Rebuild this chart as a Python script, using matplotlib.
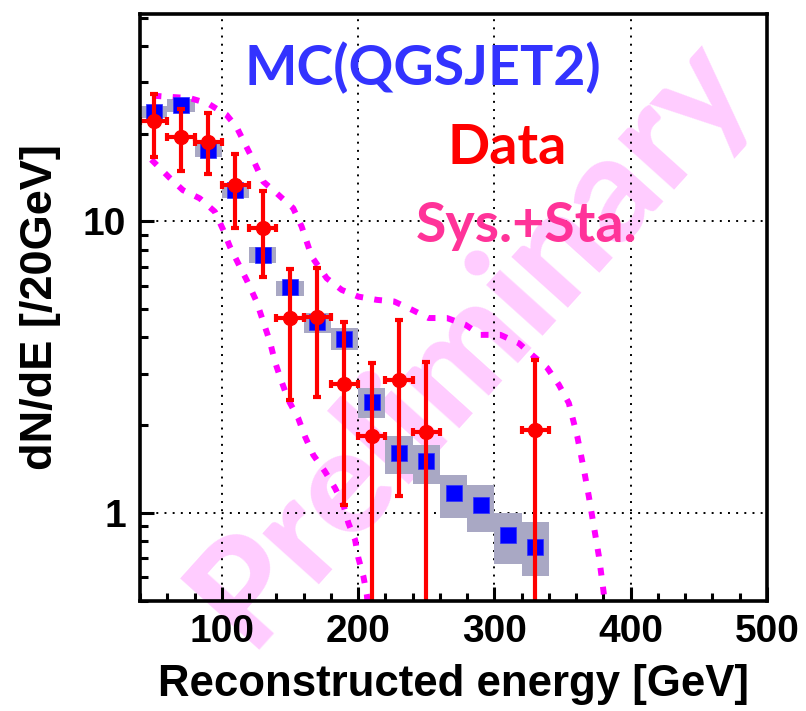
import matplotlib
matplotlib.use("Agg")
import matplotlib.pyplot as plt
from matplotlib.ticker import MultipleLocator, LogLocator, NullFormatter, FixedLocator, FixedFormatter
import numpy as np

# ---------------- data ----------------
bin_centers = [50, 70, 90, 110, 130, 150, 170, 190, 210, 230, 250, 270, 290, 310, 330]

# MC (QGSJET2)
mc_val = [23.8, 25.1, 17.6, 12.8, 7.68, 5.97, 4.53, 3.94, 2.40, 1.61, 1.51, 1.17, 1.065, 0.840, 0.766]
mc_lo  = [22.6, 23.8, 16.7, 12.0, 7.19, 5.53, 4.14, 3.62, 2.11, 1.36, 1.257, 0.959, 0.856, 0.668, 0.605]
mc_hi  = [24.8, 26.3, 18.6, 13.5, 8.19, 6.26, 4.84, 4.30, 2.69, 1.83, 1.71, 1.35, 1.248, 1.00, 0.927]

# Data
data_x  = [50, 70, 90, 110, 130, 150, 170, 190, 210, 230, 250, 330]
data_y  = [22.1, 19.5, 18.8, 13.3, 9.52, 4.66, 4.71, 2.76, 1.83, 2.86, 1.90, 1.93]
data_lo = [16.7, 14.9, 14.6, 9.52, 6.44, 2.44, 2.49, 1.065, 0.0, 1.14, 0.0, 0.0]
data_hi = [27.4, 24.4, 23.6, 17.1, 12.7, 6.85, 6.90, 4.53, 3.26, 4.59, 3.30, 3.35]
data_xerr = 10

# Sys.+Sta. envelope
up_x = [50, 59.3, 76.5, 89.9, 103.5, 110.8, 116.9, 124.3, 130.4, 140.2, 152.4, 158.6, 166.0,
        177.0, 188.0, 200.2, 213.7, 226.5, 239.7, 251.7, 265.2, 278.7, 289.7, 304.4, 317.9,
        327.7, 338.8, 347.3, 354.6, 360.8, 365.7, 369.3, 373.0, 376.7, 379.9, 381.6]
up_y = [27.0, 26.8, 26.5, 25.4, 23.2, 21.1, 18.5, 15.8, 13.7, 12.5, 11.1, 9.6, 7.57,
        6.38, 5.82, 5.52, 5.38, 5.31, 4.97, 4.66, 4.66, 4.42, 4.08, 4.08, 3.82,
        3.48, 3.14, 2.75, 2.38, 1.83, 1.404, 1.137, 0.897, 0.708, 0.545, 0.465]
lo_x = [48.3, 61.8, 71.5, 83.8, 94.9, 101.0, 105.9, 113.2, 118.2, 125.5, 130.4, 135.3, 139.0,
        143.9, 148.8, 156.1, 161.0, 167.1, 175.7, 183.1, 189.2, 192.9, 197.8, 200.2, 203.9,
        206.4, 207.4]
lo_y = [16.3, 14.1, 12.8, 12.0, 10.8, 9.36, 8.2, 7.0, 6.30, 5.31, 4.53, 3.87, 3.30,
        2.82, 2.44, 2.11, 1.83, 1.58, 1.386, 1.215, 1.065, 0.922, 0.808, 0.70, 0.605,
        0.524, 0.465]

x_ticks = [100, 200, 300, 400, 500]
y_ticks = [1, 10]
y_ticklabels = ["1", "10"]

# ---------------- figure ----------------
W, H = 806, 711
fig = plt.figure(figsize=(W / 100, H / 100), dpi=100)
fig.patch.set_facecolor("white")

L, R, T, B = 140, 767, 14, 600.5
ax = fig.add_axes([L / W, 1 - B / H, (R - L) / W, (B - T) / H])
ax.set_facecolor("none")

sans = ["Liberation Sans", "DejaVu Sans"]

# watermark
fig.text(470 / W, 1 - 340 / H, "Preliminary", rotation=48, ha="center", va="center",
         fontsize=106, fontweight="black", color="#FFCCFF", family=["Lato", "DejaVu Sans"],
         zorder=-5)

# MC boxes and markers
mc_lo_a = np.array(mc_lo)
mc_hi_a = np.array(mc_hi)
ax.bar(bin_centers, mc_hi_a - mc_lo_a, bottom=mc_lo_a, width=20, color="#A9A8C4",
       edgecolor="none", zorder=2)

# envelope
ax.plot(up_x, up_y, color="#FF00FF", lw=4.3, linestyle=(0, (1.3, 1.9)), zorder=2.5,
        dash_capstyle="butt")
ax.plot(lo_x, lo_y, color="#FF00FF", lw=4.3, linestyle=(0, (1.3, 1.9)), zorder=2.5,
        dash_capstyle="butt")

ax.plot(bin_centers, mc_val, "s", color="#0000FF", ms=12, mec="#3030FF", mew=0.5, zorder=3)

# data
dy = np.array(data_y)
yerr = [dy - np.array(data_lo), np.array(data_hi) - dy]
ax.errorbar(data_x, data_y, yerr=yerr, xerr=data_xerr, fmt="o", color="#FF0000", ms=10,
            elinewidth=3, capsize=3.2, capthick=3, zorder=4)

# axes
ax.set_yscale("log")
ax.set_xlim(40, 500)
ax.set_ylim(0.5, 51.5)

ax.xaxis.set_major_locator(FixedLocator(x_ticks))
ax.xaxis.set_minor_locator(MultipleLocator(20))
ax.yaxis.set_major_locator(FixedLocator(y_ticks))
ax.yaxis.set_major_formatter(FixedFormatter(y_ticklabels))
ax.yaxis.set_minor_locator(LogLocator(base=10, subs=[2, 3, 4, 5, 6, 7, 8, 9]))
ax.yaxis.set_minor_formatter(NullFormatter())

ax.tick_params(which="both", direction="in", top=False, right=False, width=2.2, color="black")
ax.tick_params(which="major", length=10)
ax.tick_params(which="minor", length=6)
ax.tick_params(axis="x", which="major", pad=10)
ax.tick_params(axis="y", which="major", pad=10)
for lab in ax.get_xticklabels() + ax.get_yticklabels():
    lab.set_family(sans)
    lab.set_fontweight("bold")
    lab.set_fontsize(28)

for sp in ax.spines.values():
    sp.set_linewidth(2.6)
    sp.set_zorder(5)

ax.set_axisbelow(True)
ax.grid(True, which="major", color="black", linestyle=(0, (1, 3.2)), linewidth=1.4)

ax.set_xlabel("Reconstructed energy [GeV]", family=sans, fontweight="bold", fontsize=31.5,
              labelpad=10)
ax.set_ylabel("dN/dE [/20GeV]", family=sans, fontweight="bold", fontsize=32.5, labelpad=16)

# annotations
fig.text(423 / W, 1 - 85 / H, "MC(QGSJET2)", ha="center", va="baseline", fontsize=40,
         fontweight="bold", color="#3333FF", family=["Lato", "DejaVu Sans"], zorder=10)
fig.text(507 / W, 1 - 164 / H, "Data", ha="center", va="baseline", fontsize=40,
         fontweight="bold", color="#FF0000", family=["Lato", "DejaVu Sans"], zorder=10)
fig.text(527 / W, 1 - 242 / H, "Sys.+Sta.", ha="center", va="baseline", fontsize=40,
         fontweight="bold", color="#FF3399", family=["Lato", "DejaVu Sans"], zorder=10)

fig.savefig("out.png", dpi=100, facecolor="white")
